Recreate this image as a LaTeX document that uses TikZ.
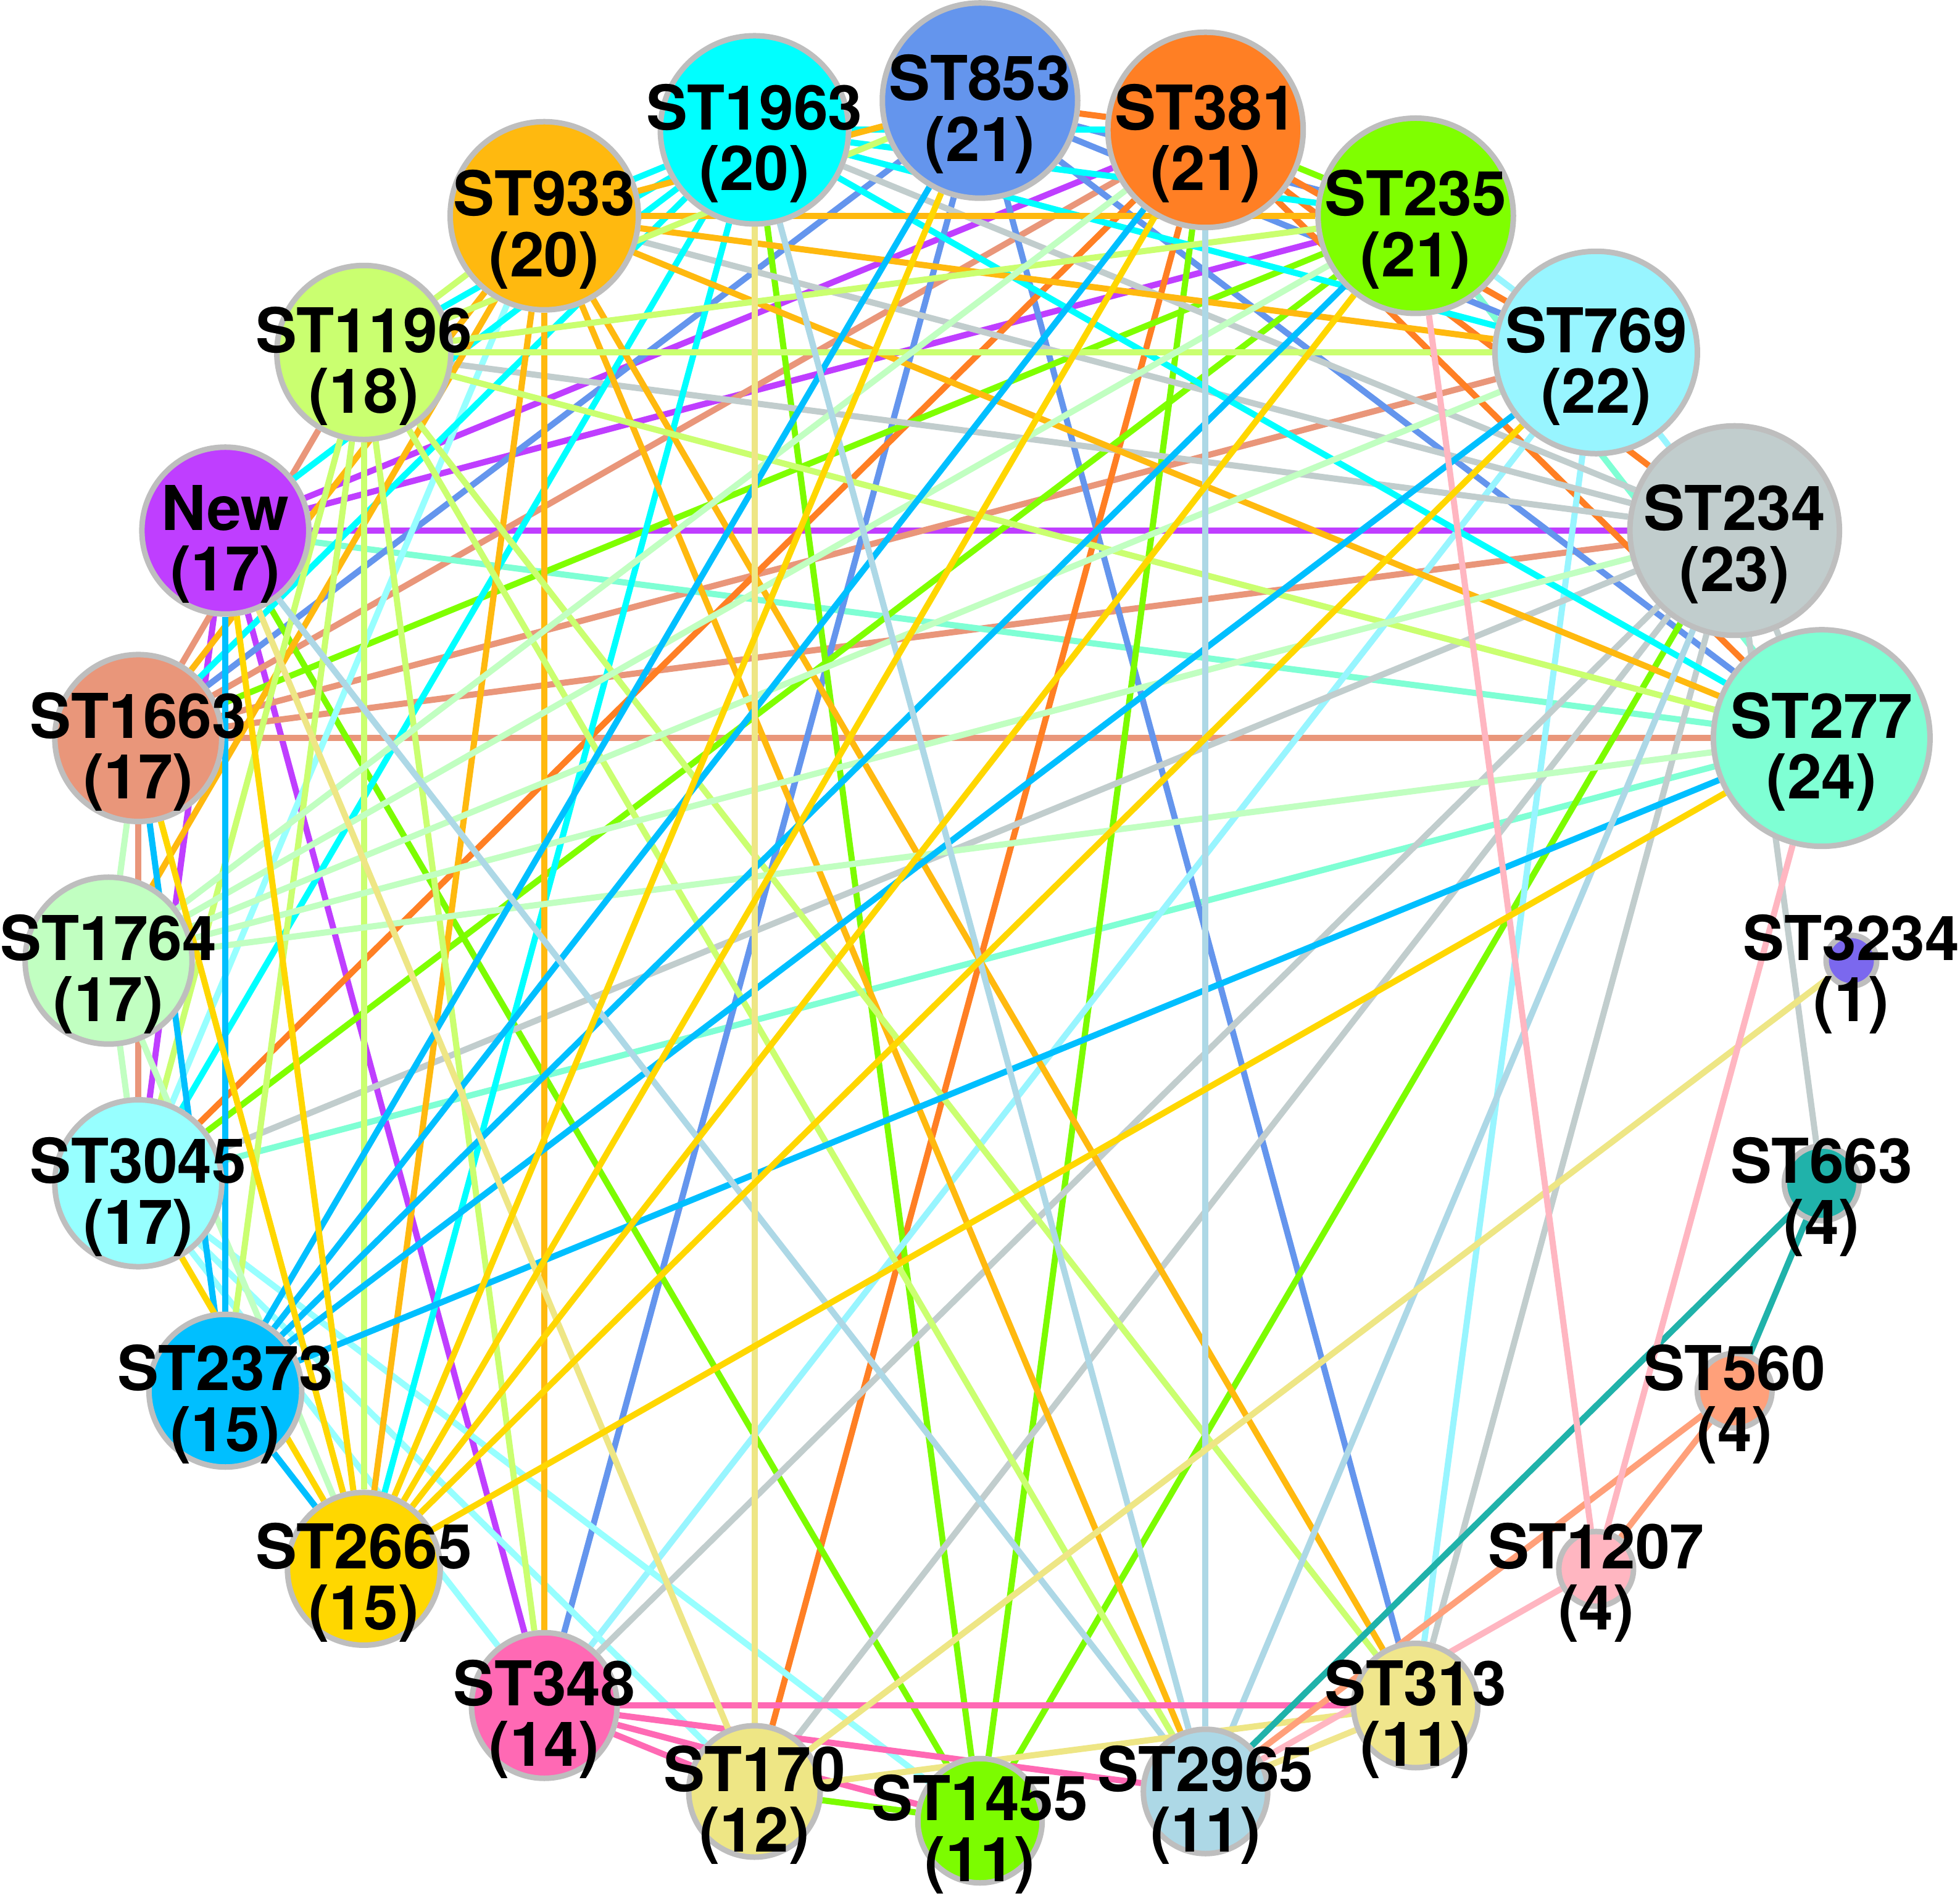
\documentclass[tikz,border=0pt]{standalone}
\usepackage{fontspec}
\setmainfont{TeX Gyre Heros}
\usetikzlibrary{backgrounds}

\definecolor{ringgray}{HTML}{BEBEBE}
\definecolor{c853}{HTML}{6495ED}
\definecolor{c381}{HTML}{FF7F24}
\definecolor{c235}{HTML}{7FFF00}
\definecolor{c769}{HTML}{98F5FF}
\definecolor{c234}{HTML}{C1CDCD}
\definecolor{c277}{HTML}{7FFFD4}
\definecolor{c3234}{HTML}{7B68EE}
\definecolor{c663}{HTML}{20B2AA}
\definecolor{c560}{HTML}{FFA07A}
\definecolor{c1207}{HTML}{FFB6C1}
\definecolor{c313}{HTML}{F0E68C}
\definecolor{c2965}{HTML}{ADD8E6}
\definecolor{c1455}{HTML}{7CFC00}
\definecolor{c170}{HTML}{EEE685}
\definecolor{c348}{HTML}{FF69B4}
\definecolor{c2665}{HTML}{FFD700}
\definecolor{c2373}{HTML}{00BFFF}
\definecolor{c3045}{HTML}{97FFFF}
\definecolor{c1764}{HTML}{C1FFC1}
\definecolor{c1663}{HTML}{E9967A}
\definecolor{cnew}{HTML}{BF3EFF}
\definecolor{c1196}{HTML}{CAFF70}
\definecolor{c933}{HTML}{FFB90F}
\definecolor{c1963}{HTML}{00FFFF}

\begin{document}
\begin{tikzpicture}[
    st/.style={circle, draw=ringgray, line width=0.09cm, inner sep=0pt},
    lbl/.style={align=center, inner sep=0pt, yshift=-0.22cm, font=\fontsize{28.5}{28}\selectfont\bfseries},
    line/.style={line width=0.1cm}
]
    \useasboundingbox (-15.88,-15.15) rectangle (15.88,15.57);

    % ST nodes, sorted round the ring
    \node[st, fill=c853, minimum size=3.165cm, label={[lbl]center:ST853\\(21)}] (st853) at (90:14.12 and 13.94) {};
    \node[st, fill=c381, minimum size=3.165cm, label={[lbl]center:ST381\\(21)}] (st381) at (75:14.12 and 13.94) {};
    \node[st, fill=c235, minimum size=3.165cm, label={[lbl]center:ST235\\(21)}] (st235) at (60:14.12 and 13.94) {};
    \node[st, fill=c769, minimum size=3.28cm, label={[lbl]center:ST769\\(22)}] (st769) at (45:14.12 and 13.94) {};
    \node[st, fill=c234, minimum size=3.395cm, label={[lbl]center:ST234\\(23)}] (st234) at (30:14.12 and 13.94) {};
    \node[st, fill=c277, minimum size=3.51cm, label={[lbl]center:ST277\\(24)}] (st277) at (15:14.12 and 13.94) {};
    \node[st, fill=c3234, minimum size=0.82cm, label={[lbl]center:ST3234\\(1)}] (st3234) at (0:14.12 and 13.94) {};
    \node[st, fill=c663, minimum size=1.21cm, label={[lbl]center:ST663\\(4)}] (st663) at (-15:14.12 and 13.94) {};
    \node[st, fill=c560, minimum size=1.21cm, label={[lbl]center:ST560\\(4)}] (st560) at (-30:14.12 and 13.94) {};
    \node[st, fill=c1207, minimum size=1.21cm, label={[lbl]center:ST1207\\(4)}] (st1207) at (-45:14.12 and 13.94) {};
    \node[st, fill=c313, minimum size=2.015cm, label={[lbl]center:ST313\\(11)}] (st313) at (-60:14.12 and 13.94) {};
    \node[st, fill=c2965, minimum size=2.015cm, label={[lbl]center:ST2965\\(11)}] (st2965) at (-75:14.12 and 13.94) {};
    \node[st, fill=c1455, minimum size=2.015cm, label={[lbl]center:ST1455\\(11)}] (st1455) at (-90:14.12 and 13.94) {};
    \node[st, fill=c170, minimum size=2.13cm, label={[lbl]center:ST170\\(12)}] (st170) at (-105:14.12 and 13.94) {};
    \node[st, fill=c348, minimum size=2.36cm, label={[lbl]center:ST348\\(14)}] (st348) at (-120:14.12 and 13.94) {};
    \node[st, fill=c2665, minimum size=2.475cm, label={[lbl]center:ST2665\\(15)}] (st2665) at (-135:14.12 and 13.94) {};
    \node[st, fill=c2373, minimum size=2.475cm, label={[lbl]center:ST2373\\(15)}] (st2373) at (-150:14.12 and 13.94) {};
    \node[st, fill=c3045, minimum size=2.705cm, label={[lbl]center:ST3045\\(17)}] (st3045) at (-165:14.12 and 13.94) {};
    \node[st, fill=c1764, minimum size=2.705cm, label={[lbl]center:ST1764\\(17)}] (st1764) at (180:14.12 and 13.94) {};
    \node[st, fill=c1663, minimum size=2.705cm, label={[lbl]center:ST1663\\(17)}] (st1663) at (165:14.12 and 13.94) {};
    \node[st, fill=cnew, minimum size=2.705cm, label={[lbl]center:New\\(17)}] (new) at (150:14.12 and 13.94) {};
    \node[st, fill=c1196, minimum size=2.82cm, label={[lbl]center:ST1196\\(18)}] (st1196) at (135:14.12 and 13.94) {};
    \node[st, fill=c933, minimum size=3.05cm, label={[lbl]center:ST933\\(20)}] (st933) at (120:14.12 and 13.94) {};
    \node[st, fill=c1963, minimum size=3.05cm, label={[lbl]center:ST1963\\(20)}] (st1963) at (105:14.12 and 13.94) {};

    \begin{pgfonlayer}{background}
    % New
    \draw[line, cnew] (new) -- (st234);
    \draw[line, cnew] (new) -- (st235);
    \draw[line, cnew] (new) -- (st381);
    \draw[line, cnew] (new) -- (st348);
    \draw[line, cnew] (new) -- (st3045);
    % ST1663
    \draw[line, c1663] (st1663) -- (st277);
    \draw[line, c1663] (st1663) -- (st234);
    \draw[line, c1663] (st1663) -- (st769);
    \draw[line, c1663] (st1663) -- (st381);
    \draw[line, c1663] (st1663) -- (st1196);
    \draw[line, c1663] (st1663) -- (st3045);
    % ST277
    \draw[line, c277] (st277) -- (new);
    \draw[line, c277] (st277) -- (st3045);
    \draw[line, c277] (st277) -- (st235);
    % ST853
    \draw[line, c853] (st853) -- (st313);
    \draw[line, c853] (st853) -- (st348);
    \draw[line, c853] (st853) -- (st1663);
    \draw[line, c853] (st853) -- (st277);
    \draw[line, c853] (st853) -- (st235);
    \draw[line, c853] (st853) -- (st769);
    % ST381
    \draw[line, c381] (st381) -- (st170);
    \draw[line, c381] (st381) -- (st3045);
    \draw[line, c381] (st381) -- (st277);
    \draw[line, c381] (st381) -- (st853);
    \draw[line, c381] (st381) -- (st234);
    \draw[line, c381] (st381) -- (st769);
    % ST235
    \draw[line, c235] (st235) -- (st3045);
    \draw[line, c235] (st235) -- (st1663);
    \draw[line, c235] (st235) -- (st381);
    % ST1455
    \draw[line, c1455] (st1455) -- (st234);
    \draw[line, c1455] (st1455) -- (st381);
    \draw[line, c1455] (st1455) -- (st1963);
    \draw[line, c1455] (st1455) -- (new);
    \draw[line, c1455] (st1455) -- (st170);
    % ST769
    \draw[line, c769] (st769) -- (st313);
    \draw[line, c769] (st769) -- (st348);
    \draw[line, c769] (st769) -- (st235);
    \draw[line, c769] (st769) -- (st234);
    % ST3045
    \draw[line, c3045] (st3045) -- (st933);
    \draw[line, c3045] (st3045) -- (st170);
    \draw[line, c3045] (st3045) -- (st1455);
    \draw[line, c3045] (st3045) -- (st348);
    % ST234
    \draw[line, c234] (st234) -- (st663);
    \draw[line, c234] (st234) -- (st313);
    \draw[line, c234] (st234) -- (st348);
    \draw[line, c234] (st234) -- (st170);
    \draw[line, c234] (st234) -- (st3045);
    \draw[line, c234] (st234) -- (st933);
    \draw[line, c234] (st234) -- (st1196);
    \draw[line, c234] (st234) -- (st1963);
    \draw[line, c234] (st234) -- (st277);
    % ST1963
    \draw[line, c1963] (st1963) -- (st2665);
    \draw[line, c1963] (st1963) -- (st277);
    \draw[line, c1963] (st1963) -- (st769);
    \draw[line, c1963] (st1963) -- (st381);
    \draw[line, c1963] (st1963) -- (st235);
    \draw[line, c1963] (st1963) -- (st3045);
    \draw[line, c1963] (st1963) -- (st1663);
    \draw[line, c1963] (st1963) -- (new);
    \draw[line, c1963] (st1963) -- (st1196);
    \draw[line, c1963] (st1963) -- (st933);
    % ST933
    \draw[line, c933] (st933) -- (st348);
    \draw[line, c933] (st933) -- (st235);
    \draw[line, c933] (st933) -- (st313);
    \draw[line, c933] (st933) -- (st2665);
    \draw[line, c933] (st933) -- (st2965);
    \draw[line, c933] (st933) -- (st277);
    \draw[line, c933] (st933) -- (st769);
    \draw[line, c933] (st933) -- (st853);
    \draw[line, c933] (st933) -- (st1764);
    \draw[line, c933] (st933) -- (st1663);
    % ST1196
    \draw[line, c1196] (st1196) -- (st2665);
    \draw[line, c1196] (st1196) -- (st769);
    \draw[line, c1196] (st1196) -- (st313);
    \draw[line, c1196] (st1196) -- (st277);
    \draw[line, c1196] (st1196) -- (st2965);
    \draw[line, c1196] (st1196) -- (st2373);
    \draw[line, c1196] (st1196) -- (st348);
    \draw[line, c1196] (st1196) -- (st235);
    \draw[line, c1196] (st1196) -- (st933);
    \draw[line, c1196] (st1196) -- (st3045);
    \draw[line, c1196] (st1196) -- (st853);
    % ST1764
    \draw[line, c1764] (st1764) -- (st277);
    \draw[line, c1764] (st1764) -- (st234);
    \draw[line, c1764] (st1764) -- (st769);
    \draw[line, c1764] (st1764) -- (st235);
    \draw[line, c1764] (st1764) -- (st381);
    \draw[line, c1764] (st1764) -- (st2665);
    \draw[line, c1764] (st1764) -- (st3045);
    \draw[line, c1764] (st1764) -- (st1663);
    % ST2373
    \draw[line, c2373] (st2373) -- (new);
    \draw[line, c2373] (st2373) -- (st277);
    \draw[line, c2373] (st2373) -- (st2665);
    \draw[line, c2373] (st2373) -- (st853);
    \draw[line, c2373] (st2373) -- (st381);
    \draw[line, c2373] (st2373) -- (st235);
    \draw[line, c2373] (st2373) -- (st769);
    \draw[line, c2373] (st2373) -- (st1663);
    % ST2965
    \draw[line, c2965] (st2965) -- (st381);
    \draw[line, c2965] (st2965) -- (new);
    \draw[line, c2965] (st2965) -- (st1963);
    \draw[line, c2965] (st2965) -- (st234);
    % ST348
    \draw[line, c348] (st348) -- (st313);
    \draw[line, c348] (st348) -- (st2965);
    \draw[line, c348] (st348) -- (st1455);
    \draw[line, c348] (st348) -- (st170);
    % ST170, ST313
    \draw[line, c170] (st170) -- (st1963);
    \draw[line, c170] (st170) -- (st3234);
    \draw[line, c170] (st170) -- (st313);
    \draw[line, c170] (st170) -- (new);
    \draw[line, c313] (st313) -- (st2965);
    % small ones
    \draw[line, c663] (st663) -- (st560);
    \draw[line, c663] (st663) -- (st2965);
    \draw[line, c560] (st560) -- (st1207);
    \draw[line, c560] (st560) -- (st2965);
    \draw[line, c1207] (st1207) -- (st235);
    \draw[line, c1207] (st1207) -- (st277);
    \draw[line, c1207] (st1207) -- (st2965);
    % ST2665
    \draw[line, c2665] (st2665) -- (st853);
    \draw[line, c2665] (st2665) -- (st381);
    \draw[line, c2665] (st2665) -- (st235);
    \draw[line, c2665] (st2665) -- (st769);
    \draw[line, c2665] (st2665) -- (st277);
    \draw[line, c2665] (st2665) -- (new);
    \draw[line, c2665] (st2665) -- (st1663);
    \draw[line, c2665] (st2665) -- (st3045);
    \end{pgfonlayer}

\end{tikzpicture}
\end{document}
